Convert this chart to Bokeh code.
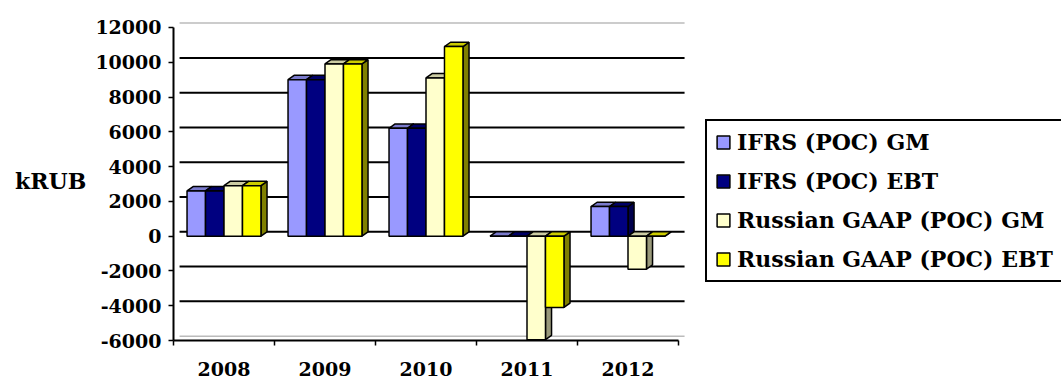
from bokeh.plotting import figure
from bokeh.models import (ColumnDataSource, FixedTicker, Legend, LegendItem)
from bokeh.embed import file_html
from bokeh.resources import INLINE

years = ["2008", "2009", "2010", "2011", "2012"]
series_names = ["IFRS (POC) GM", "IFRS (POC) EBT", "Russian GAAP (POC) GM", "Russian GAAP (POC) EBT"]
ifrs_gm = [2600, 9000, 6200, 0, 1700]
ifrs_ebt = [2600, 9000, 6200, 0, 1700]
rus_gm = [2900, 9900, 9100, -5950, -1900]
rus_ebt = [2900, 9900, 10900, -4100, 0]
y_ticks = [-6000, -4000, -2000, 0, 2000, 4000, 6000, 8000, 10000, 12000]

series = [ifrs_gm, ifrs_ebt, rus_gm, rus_ebt]
front = ["#9999FF", "#000080", "#FFFFCC", "#FFFF00"]
side = ["#5C5C99", "#00004D", "#99997A", "#808000"]
top = ["#7A7ACC", "#000066", "#CCCCA3", "#CCCC00"]

FONT = "DejaVu Serif"
n = len(years)
bw = 0.183
offsets = [-1.5 * bw, -0.5 * bw, 0.5 * bw, 1.5 * bw]
dx = 0.06      # 3D depth, category units
dy = 250       # 3D depth, value units

p = figure(width=1061, height=380, output_backend="svg", toolbar_location=None,
           x_range=(-0.5, -0.5 + 888 / 101), y_range=(-6000, 12400),
           min_border_left=173, min_border_right=0, min_border_top=20, min_border_bottom=40,
           outline_line_color=None, background_fill_color="white", border_fill_color="white")
p.xgrid.grid_line_color = None
p.ygrid.grid_line_color = None

# back-wall gridlines
inner = y_ticks[1:-1]
p.segment(x0=[-0.5 + dx] * len(inner), x1=[n - 0.5 + dx] * len(inner),
          y0=[t + dy for t in inner], y1=[t + dy for t in inner], line_color="black", line_width=2)
edges = [y_ticks[0], y_ticks[-1]]
p.segment(x0=[-0.5 + dx] * 2, x1=[n - 0.5 + dx] * 2,
          y0=[t + dy for t in edges], y1=[t + dy for t in edges], line_color="#BBBBBB", line_width=1.5)

# 3D side/top faces
xs, ys, cols = [], [], []
for i in range(n):
    for s in range(4):
        v = series[s][i]
        x0 = i + offsets[s] - bw / 2
        x1 = i + offsets[s] + bw / 2
        y0, y1 = min(0, v), max(0, v)
        xs.append([x1, x1 + dx, x1 + dx, x1]); ys.append([y0, y0 + dy, y1 + dy, y1]); cols.append(side[s])
        xs.append([x0, x0 + dx, x1 + dx, x1]); ys.append([y1, y1 + dy, y1 + dy, y1]); cols.append(top[s])
p.patches(xs="xs", ys="ys", fill_color="cols", line_color="black", line_width=1.5,
          source=ColumnDataSource(dict(xs=xs, ys=ys, cols=cols)))

items = []
for s in range(4):
    src = ColumnDataSource(dict(x=[i + offsets[s] for i in range(n)], top=series[s]))
    r = p.vbar(x="x", top="top", bottom=0, width=bw, source=src,
               fill_color=front[s], line_color="black", line_width=1.5)
    items.append(LegendItem(label=series_names[s], renderers=[r]))

legend = Legend(items=items, location=(532, 58), border_line_color="black", border_line_width=2,
                border_line_alpha=1,
                label_text_font=FONT, label_text_font_style="bold", label_text_font_size="22px",
                label_text_color="black", glyph_width=16, glyph_height=16, label_height=24,
                label_width=340, spacing=13, padding=8, margin=0, label_standoff=6,
                background_fill_color="white", background_fill_alpha=1)
p.add_layout(legend, "center")

# axes
p.yaxis.ticker = FixedTicker(ticks=y_ticks)
p.yaxis.major_label_overrides = {t: str(t) for t in y_ticks}
p.yaxis.bounds = (y_ticks[0], y_ticks[-1])
p.yaxis.axis_line_width = 2
p.yaxis.major_tick_out = 5
p.yaxis.major_tick_in = 0
p.yaxis.major_tick_line_width = 1.5
p.yaxis.minor_tick_line_color = None
p.yaxis.major_label_standoff = 7
p.yaxis.major_label_text_font = FONT
p.yaxis.major_label_text_font_style = "bold"
p.yaxis.major_label_text_font_size = "19px"
p.yaxis.major_label_text_color = "black"
p.yaxis.axis_label = "kRUB"
p.yaxis.axis_label_text_font = FONT
p.yaxis.axis_label_text_font_style = "bold"
p.yaxis.axis_label_text_font_size = "22px"
p.yaxis.axis_label_text_color = "black"
p.yaxis.axis_label_standoff = 6
if "axis_label_orientation" in p.yaxis[0].properties():
    p.yaxis.axis_label_orientation = "horizontal"

p.xaxis.ticker = FixedTicker(ticks=list(range(n)), minor_ticks=[k - 0.5 for k in range(n + 1)])
p.xaxis.bounds = (-0.5, n - 0.5)
p.xaxis.major_label_overrides = {i: y for i, y in enumerate(years)}
p.xaxis.axis_line_width = 2
p.xaxis.major_tick_line_color = None
p.xaxis.major_tick_out = 0
p.xaxis.major_tick_in = 0
p.xaxis.minor_tick_out = 5
p.xaxis.minor_tick_in = 0
p.xaxis.minor_tick_line_width = 1.5
p.xaxis.minor_tick_line_color = "black"
p.xaxis.major_label_standoff = 16
p.xaxis.major_label_text_font = FONT
p.xaxis.major_label_text_font_style = "bold"
p.xaxis.major_label_text_font_size = "19px"
p.xaxis.major_label_text_color = "black"

open("out.html", "w").write(file_html(p, INLINE))
